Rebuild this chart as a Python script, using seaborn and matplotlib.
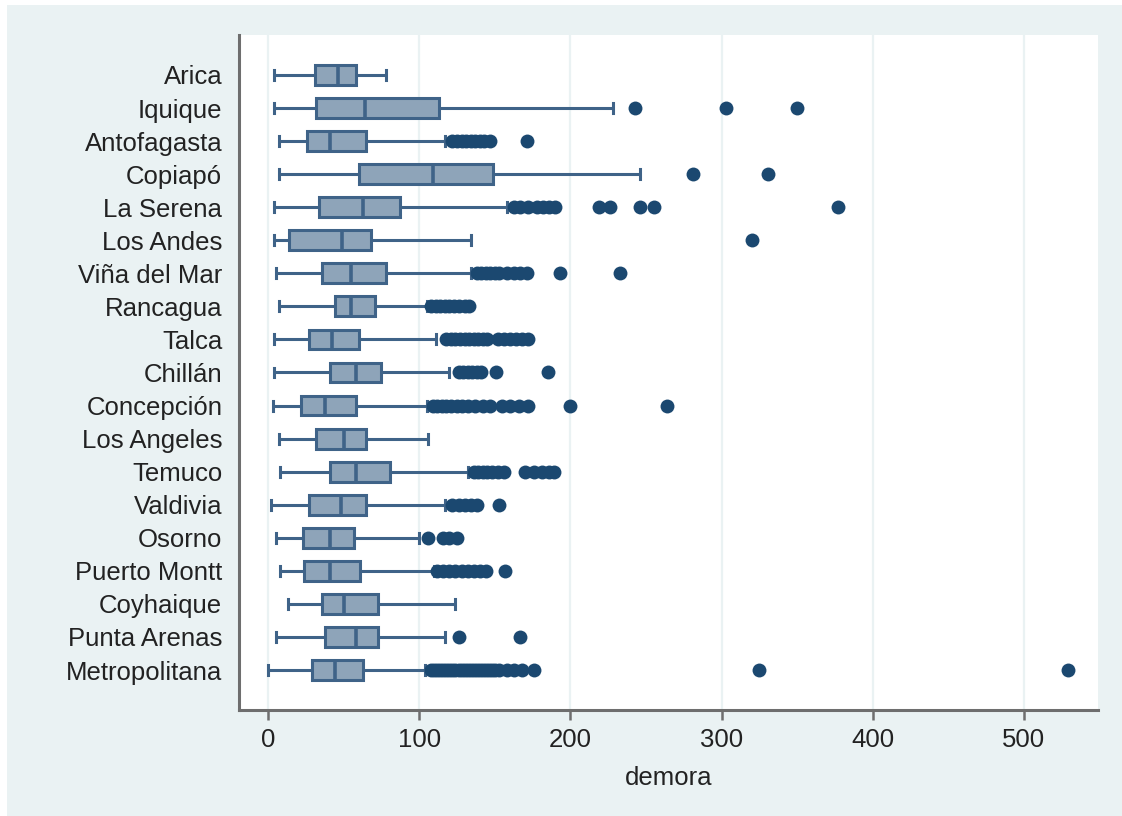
import matplotlib
matplotlib.use("Agg")
import matplotlib.pyplot as plt
import seaborn as sns
import pandas as pd
from matplotlib.patches import Rectangle

regions = ["Arica", "Iquique", "Antofagasta", "Copiapó", "La Serena", "Los Andes",
           "Viña del Mar", "Rancagua", "Talca", "Chillán", "Concepción", "Los Angeles",
           "Temuco", "Valdivia", "Osorno", "Puerto Montt", "Coyhaique", "Punta Arenas",
           "Metropolitana"]
whisker_low = [4, 4, 7, 7, 4, 4, 5, 7, 4, 4, 3, 7, 8, 2, 5, 8, 13, 5, 0]
q1 = [31, 32, 26, 60, 34, 14, 36, 44, 27, 41, 22, 32, 41, 27, 23, 24, 36, 38, 29]
median = [46, 64, 41, 109, 63, 49, 55, 55, 42, 58, 38, 50, 58, 48, 41, 41, 50, 58, 44]
q3 = [58, 113, 65, 149, 87, 68, 78, 71, 60, 75, 58, 65, 81, 65, 57, 61, 73, 73, 63]
whisker_high = [78, 228, 117, 246, 158, 134, 134, 105, 111, 120, 105, 106, 132, 117, 100, 110, 124, 117, 104]

out_arica = []
out_iquique = [243, 303, 350]
out_antofagasta = [122, 125, 128, 131, 134, 137, 140, 143, 147, 171]
out_copiapo = [281, 331]
out_la_serena = [163, 167, 172, 178, 182, 186, 190, 219, 226, 246, 255, 377]
out_los_andes = [320]
out_vina = [138, 141, 144, 147, 150, 153, 158, 163, 167, 171, 193, 233]
out_rancagua = [108, 111, 114, 117, 120, 123, 126, 130, 133]
out_talca = [118, 121, 124, 127, 130, 133, 136, 139, 142, 145, 152, 156, 160, 164, 168, 172]
out_chillan = [126, 129, 132, 135, 138, 141, 151, 185]
out_concepcion = [109, 112, 115, 118, 121, 125, 128, 132, 137, 142, 147, 155, 160, 166, 172, 200, 264]
out_los_angeles = []
out_temuco = [136, 139, 142, 145, 148, 152, 156, 170, 176, 181, 186, 189]
out_valdivia = [122, 126, 130, 134, 138, 153]
out_osorno = [106, 116, 120, 125]
out_puerto_montt = [112, 116, 120, 124, 128, 132, 136, 140, 144, 157]
out_coyhaique = []
out_punta_arenas = [126, 167]
out_metropolitana = [108, 110, 112, 114, 116, 118, 120, 122, 124, 126, 128, 130, 132, 134,
                     136, 138, 140, 142, 144, 146, 148, 150, 153, 158, 163, 168, 176, 325, 529]

outliers = [out_arica, out_iquique, out_antofagasta, out_copiapo, out_la_serena,
            out_los_andes, out_vina, out_rancagua, out_talca, out_chillan,
            out_concepcion, out_los_angeles, out_temuco, out_valdivia, out_osorno,
            out_puerto_montt, out_coyhaique, out_punta_arenas, out_metropolitana]

# five-number table for the boxes (whiskers drawn to min/max of these values)
box_rows = []
for i, r in enumerate(regions):
    for v in (whisker_low[i], q1[i], q1[i], median[i], q3[i], q3[i], whisker_high[i]):
        box_rows.append({"region": r, "demora": v})
df_box = pd.DataFrame(box_rows)

out_rows = []
for r, vals in zip(regions, outliers):
    for v in vals:
        out_rows.append({"region": r, "demora": v})
df_out = pd.DataFrame(out_rows)

BG = "#EAF2F3"
FILL = "#8EA4B9"
EDGE = "#3F6388"
DOT = "#1B4870"
FONT = ["Liberation Sans", "DejaVu Sans"]

plt.rcParams["font.family"] = FONT

W, H = 1122, 816
fig = plt.figure(figsize=(W / 100, H / 100), dpi=100)
fig.patch.set_facecolor("white")
fig.patches.append(Rectangle((7 / W, 0), 1 - 7 / W, 1 - 5 / H, transform=fig.transFigure,
                             facecolor=BG, edgecolor="none", zorder=-10))

ax = fig.add_axes([239 / W, (H - 710) / H, (1098 - 239) / W, (710 - 35) / H])
ax.set_facecolor("white")

sns.boxplot(data=df_box, x="demora", y="region", order=regions, orient="h",
            whis=(0, 100), width=0.6, color=FILL, linecolor=EDGE, linewidth=2.2,
            saturation=1, showfliers=False, ax=ax, zorder=3, capwidths=0.3,
            medianprops={"linewidth": 2.6})
sns.stripplot(data=df_out, x="demora", y="region", order=regions, orient="h",
              jitter=False, color=DOT, size=10, linewidth=0, ax=ax, zorder=4)

ax.set_xlim(-19.2, 549)
ax.set_ylim(19.21, -1.21)
ax.set_xticks([0, 100, 200, 300, 400, 500])
ax.set_axisbelow(True)
ax.xaxis.grid(True, color=BG, linewidth=1.6)
ax.yaxis.grid(False)

for s in ("top", "right"):
    ax.spines[s].set_visible(False)
for s in ("left", "bottom"):
    ax.spines[s].set_color("#6E6E6E")
    ax.spines[s].set_linewidth(2.2)

ax.tick_params(axis="x", length=7, width=1.8, color="#6E6E6E", pad=6,
               labelsize=18.5, labelcolor="#222222")
ax.tick_params(axis="y", length=0, pad=12, labelsize=18.5, labelcolor="#222222")
ax.set_ylabel("")
ax.set_xlabel("demora", fontsize=18.5, color="#222222", labelpad=10)

fig.savefig("out.png", dpi=100, facecolor=fig.get_facecolor())
